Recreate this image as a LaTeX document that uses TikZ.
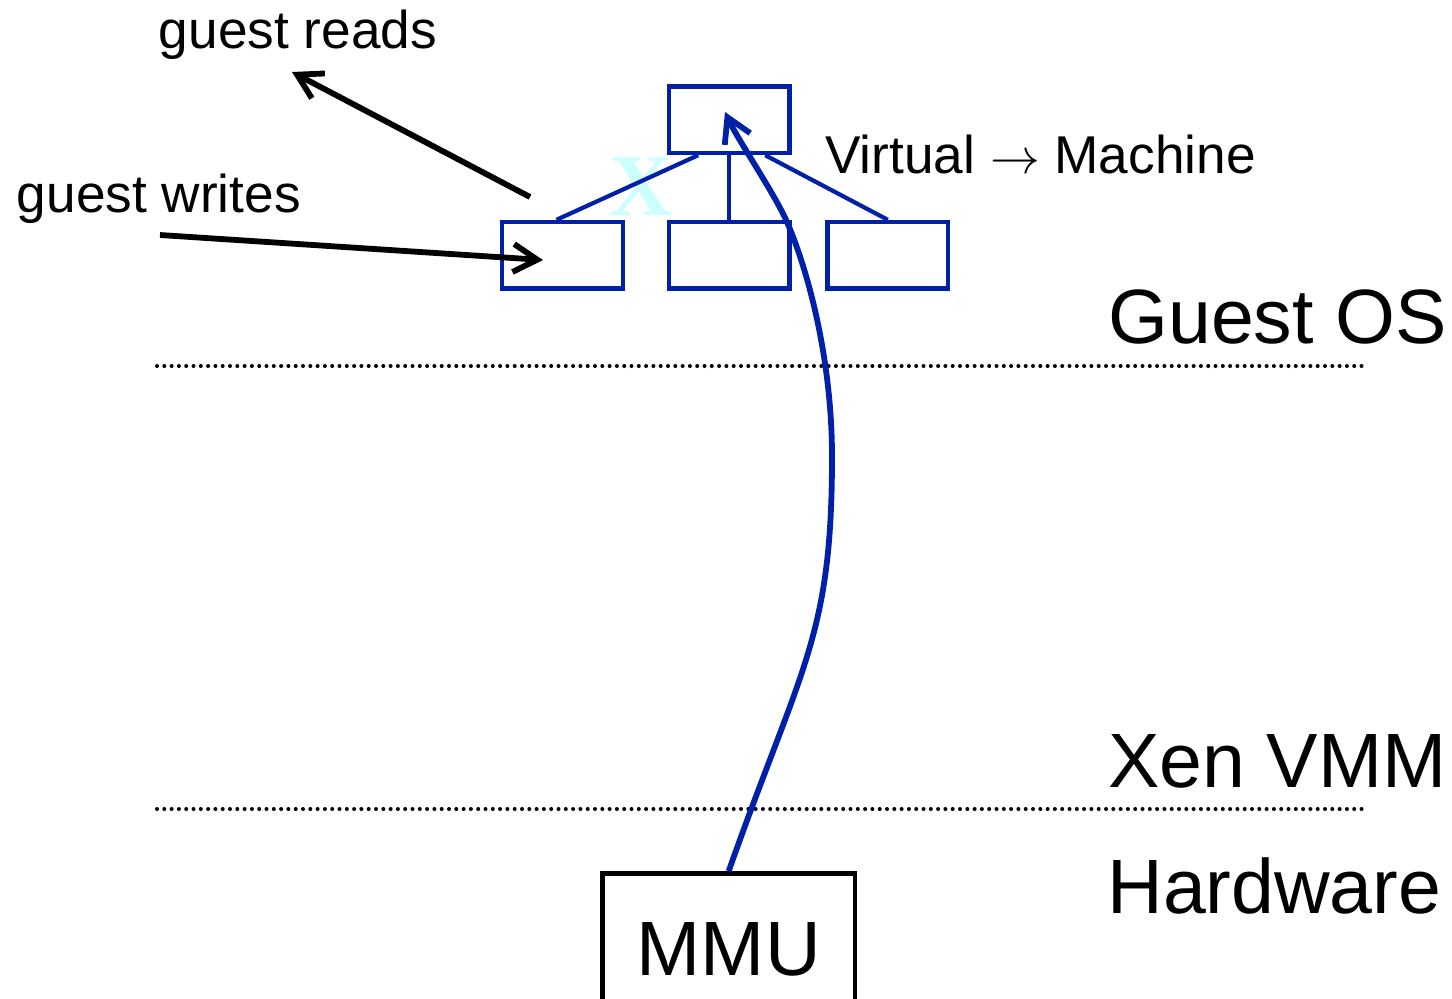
\documentclass[tikz,border=0pt]{standalone}
\usepackage{fontspec}
\setmainfont{Liberation Sans}
\newfontfamily\crossfont{Liberation Serif}
\usetikzlibrary{arrows.meta,calc}
\definecolor{treeblue}{RGB}{0,32,168}
\definecolor{crosscyan}{RGB}{204,255,255}

\begin{document}
\begin{tikzpicture}[x=0.5pt,y=-0.5pt,
  tablebox/.style={draw=treeblue,line width=2.2pt,minimum width=60.25pt,
    minimum height=33.3pt,inner sep=0pt},
  treeline/.style={draw=treeblue,line width=2.1pt},
  smalltext/.style={font=\fontsize{26.6}{30}\selectfont,inner sep=0pt,anchor=base west},
  bigtext/.style={font=\fontsize{38.5}{44}\selectfont,inner sep=0pt,anchor=base west},
  layerline/.style={line width=2pt,line cap=round,dash pattern=on 0pt off 3.65pt},
  barb/.style={-{Straight Barb[length=12pt,width=14pt]}},
]
\useasboundingbox (0,0) rectangle (1452,998);
\clip (0,0) rectangle (1452,998);

% crossed-out mark behind the first tree edge
\node[font=\crossfont\bfseries\fontsize{44}{48}\selectfont,text=crosscyan,inner sep=0pt]
  (cross) at (641,186.5) {X};

% page-table tree
\node[tablebox] (root) at (729.2,119.7) {};
\node[tablebox] (c1) at (562.5,255.3) {};
\node[tablebox] (c2) at (729.2,255.3) {};
\node[tablebox] (c3) at (887.8,255.3) {};
\draw[treeline] ($(root.south)+(-31,0)$) -- ($(c1.north)+(-6,0)$);
\draw[treeline] (root.south) -- (c2.north);
\draw[treeline] ($(root.south)+(36,0)$) -- (c3.north);

% labels
\node[smalltext] (reads) at (158.5,48.3) {guest reads};
\node[smalltext] (writes) at (16.5,212) {guest writes};
\node[smalltext] (vm) at (825,173.3) {Virtual $\rightarrow$ Machine};
\node[bigtext] (guestos) at (1108,343) {Guest OS};
\node[bigtext] (xen) at (1108,787.3) {Xen VMM};
\node[bigtext] (hw) at (1107,913.3) {Hardware};

% layer separators
\coordinate (osL) at (157,366);
\coordinate (osR) at (1362,366);
\coordinate (hwL) at (157,809);
\coordinate (hwR) at (1362,809);
\draw[layerline] (osL) -- (osR);
\draw[layerline] (hwL) -- (hwR);

% hardware MMU
\node[draw,line width=2.2pt,minimum width=126.3pt,minimum height=76.2pt,inner sep=0pt,
  font=\fontsize{38.5}{44}\selectfont] (mmu) at (728.7,949.5) {MMU};

% MMU walks the tree
\coordinate (pte) at (725,112);
\draw[treeblue,line width=2.9pt,barb] (mmu.north)
  .. controls (801.6,665) and (832,637) .. (832,457)
  .. controls (832,357) and (807,268) .. (787,222)
  .. controls (775,194.4) and (737.6,139.3) .. (pte);

% guest accesses
\coordinate (readsFrom) at (530,197);
\coordinate (readsTo) at (292,72);
\coordinate (writesFrom) at (160,235);
\coordinate (writesTo) at (543,260);
\draw[line width=2.9pt,barb] (readsFrom) -- (readsTo);
\draw[line width=2.9pt,barb] (writesFrom) -- (writesTo);
\end{tikzpicture}
\end{document}
